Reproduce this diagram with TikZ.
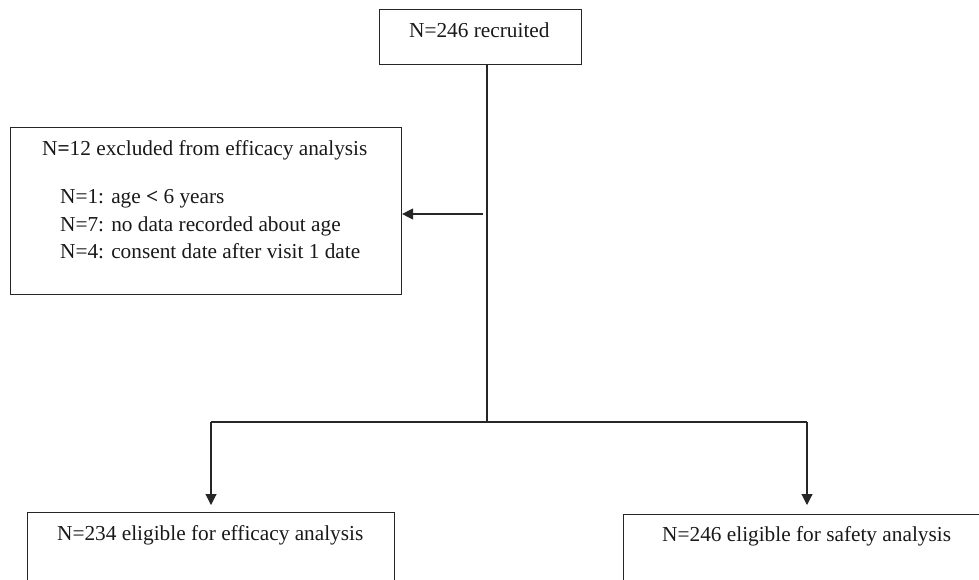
\documentclass[tikz,border=0pt]{standalone}
\usepackage{fontspec}
\setmainfont{Liberation Serif}
\usetikzlibrary{arrows.meta}
\begin{document}
\begin{tikzpicture}[x=1pt,y=-1pt,
  box/.style={draw=black!85, line width=1.1pt, rectangle, inner sep=0pt, anchor=north west},
  txt/.style={inner sep=0pt, anchor=base west, text=black!90, font=\fontsize{21.3}{25}\selectfont},
  conn/.style={draw=black!85, line width=1.1pt},
  arr/.style={conn, -{Triangle[length=11pt,width=11pt]}}]
\useasboundingbox (0,0) rectangle (979,579);
\clip (0,0) rectangle (979,579);
% boxes
\node[box, minimum width=202pt, minimum height=55pt] (top) at (379,9) {};
\node[box, minimum width=391pt, minimum height=167pt] (excl) at (10,127) {};
\node[box, minimum width=367pt, minimum height=100pt] (eff) at (27,512) {};
\node[box, minimum width=380pt, minimum height=100pt] (saf) at (623,514) {};
% texts
\node[txt] (ttop) at (409,37) {N=246 recruited};
\node[txt] (t0) at (42,155) {N\textbf{=}12 excluded from efficacy analysis};
\node[txt] (t1) at (60,203) {N=1: age \textbf{<} 6 years};
\node[txt] (t2) at (60,231) {N=7: no data recorded about age};
\node[txt] (t3) at (60,258) {N=4: consent date after visit 1 date};
\node[txt] (teff) at (57,540) {N=234 eligible for efficacy analysis};
\node[txt] (tsaf) at (662,541) {N=246 eligible for safety analysis};
% connectors
\coordinate (split) at (487,422);
\coordinate (bl) at (211,422);
\coordinate (br) at (807,422);
\coordinate (side) at (483,214);
\draw[conn] (top.south -| split) -- (split);
\draw[arr] (side) -- (excl.east |- side);
\draw[conn] (bl) -- (br);
\draw[arr, shorten >=7pt] (bl) -- (eff.north -| bl);
\draw[arr, shorten >=9pt] (br) -- (saf.north -| br);
\end{tikzpicture}
\end{document}
